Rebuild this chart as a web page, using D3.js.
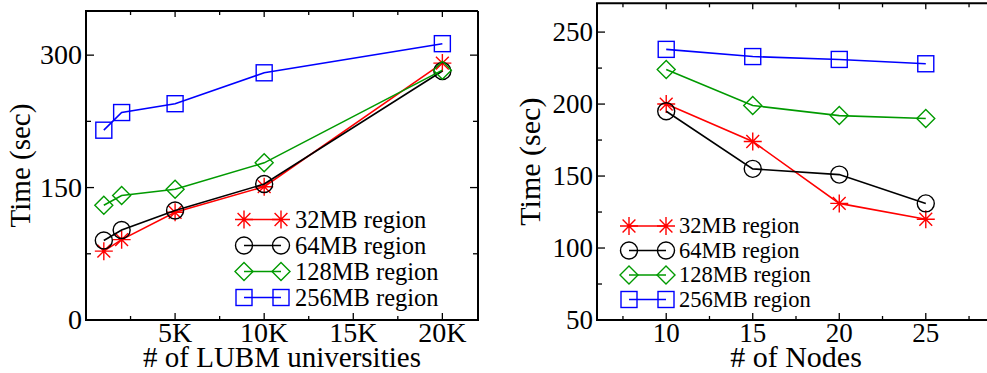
<!DOCTYPE html>
<meta charset="utf-8">
<script src="https://d3js.org/d3.v7.min.js"></script>
<style>
  body { margin: 0; background: #fff; }
</style>
<div id="chart"></div>
<script>

// ---- data ----
var seriesNames = ["32MB region", "64MB region", "128MB region", "256MB region"];

// left: time vs # of LUBM universities
var leftX = [1000, 2000, 5000, 10000, 20000];
var left32 = [78, 91, 122, 151, 291];
var left64 = [90, 102, 124, 154, 282];
var left128 = [130, 141, 148, 178, 283];
var left256 = [215, 235, 245, 280, 313];
var leftXTicks = [5000, 10000, 15000, 20000];
var leftXTickLabels = ["5K", "10K", "15K", "20K"];
var leftYTicks = [0, 150, 300];

// right: time vs # of nodes
var rightX = [10, 15, 20, 25];
var right32 = [200, 174, 131, 120];
var right64 = [195, 155, 151, 131];
var right128 = [224, 199, 192, 190];
var right256 = [238, 233, 231, 228];
var rightXTicks = [10, 15, 20, 25];
var rightXTickLabels = ["10", "15", "20", "25"];
var rightYTicks = [50, 100, 150, 200, 250];

var colors = ["#ff0000", "#000000", "#009a00", "#0000ff"];
var shapes = ["star", "circle", "diamond", "square"];

var svg = d3.select("#chart").append("svg")
    .attr("width", 987)
    .attr("height", 373);

function label(g, x, y, size, str) {
  return g.append("text").attr("x", x).attr("y", y)
    .style("font-family", "Liberation Serif")
    .style("font-size", size + "px")
    .style("fill", "#000")
    .text(str);
}

// marker drawing
function marker(g, shape, color, cx, cy) {
  var m = g.append("g").attr("transform", "translate(" + cx + "," + cy + ")")
    .attr("fill", "none").attr("stroke", color).attr("stroke-width", 1.4);
  if (shape == "circle") {
    m.append("circle").attr("r", 8.5);
  } else if (shape == "square") {
    m.append("rect").attr("x", -8).attr("y", -8).attr("width", 16).attr("height", 16);
  } else if (shape == "diamond") {
    m.append("path").attr("d", "M0,-9L9,0L0,9L-9,0Z");
  } else {
    var r = 9, d = 6.4;
    m.append("path").attr("d",
      "M" + (-r) + ",0H" + r + "M0," + (-r) + "V" + r +
      "M" + (-d) + "," + (-d) + "L" + d + "," + d +
      "M" + (-d) + "," + d + "L" + d + "," + (-d));
  }
}

function drawPanel(p) {
  var x = d3.scaleLinear().domain(p.xDomain).range(p.xRange);
  var y = d3.scaleLinear().domain(p.yDomain).range(p.yRange);
  var g = svg.append("g");
  var x0 = p.xRange[0], x1 = p.xRange[1], y0 = p.yRange[0], y1 = p.yRange[1];

  // frame
  var frame = "M" + x1 + "," + y1 + "H" + x0 + "V" + y0 + "H" + x1;
  if (p.rightBorder) frame += "V" + y1;
  g.append("path").attr("d", frame).attr("fill", "none")
    .attr("stroke", "#000").attr("stroke-width", 2);

  // ticks, all pointing inward
  var ticks = g.append("g").attr("stroke", "#000").attr("stroke-width", 1.3);
  p.xMajor.forEach(function(v) {
    ticks.append("line").attr("x1", x(v)).attr("x2", x(v)).attr("y1", y0).attr("y2", y0 - 7);
    ticks.append("line").attr("x1", x(v)).attr("x2", x(v)).attr("y1", y1).attr("y2", y1 + 6);
  });
  p.xMinor.forEach(function(v) {
    ticks.append("line").attr("x1", x(v)).attr("x2", x(v)).attr("y1", y0).attr("y2", y0 - 4);
    ticks.append("line").attr("x1", x(v)).attr("x2", x(v)).attr("y1", y1).attr("y2", y1 + 4);
  });
  p.yMajor.forEach(function(v) {
    ticks.append("line").attr("x1", x0).attr("x2", x0 + 8).attr("y1", y(v)).attr("y2", y(v));
    if (p.rightBorder)
      ticks.append("line").attr("x1", x1).attr("x2", x1 - 8).attr("y1", y(v)).attr("y2", y(v));
  });
  p.yMinor.forEach(function(v) {
    ticks.append("line").attr("x1", x0).attr("x2", x0 + 5).attr("y1", y(v)).attr("y2", y(v));
    if (p.rightBorder)
      ticks.append("line").attr("x1", x1).attr("x2", x1 - 5).attr("y1", y(v)).attr("y2", y(v));
  });

  // tick labels
  p.xMajor.forEach(function(v, i) {
    label(g, x(v), 342, p.tickFont, p.xLabels[i]).attr("text-anchor", "middle");
  });
  p.yMajor.forEach(function(v) {
    label(g, x0 - 4, y(v) + p.tickFont * 0.33, p.tickFont, v).attr("text-anchor", "end");
  });

  // axis titles
  label(g, p.xTitleX, 367, p.titleFont, p.xTitle).attr("text-anchor", "middle");
  label(g, 0, 0, p.titleFont, "Time (sec)")
    .attr("transform", "translate(" + p.yTitleX + "," + ((y0 + y1) / 2) + ") rotate(-90)")
    .attr("text-anchor", "middle");

  // series
  var line = d3.line().x(function(d) { return x(d[0]); }).y(function(d) { return y(d[1]); });
  p.series.forEach(function(vals, k) {
    var pts = p.xs.map(function(v, i) { return [v, vals[i]]; });
    g.append("path").datum(pts).attr("d", line).attr("fill", "none")
      .attr("stroke", colors[k]).attr("stroke-width", 1.6);
    pts.forEach(function(d) { marker(g, shapes[k], colors[k], x(d[0]), y(d[1])); });
  });

  // legend
  seriesNames.forEach(function(name, k) {
    var ly = p.legend.y + k * p.legend.dy;
    g.append("line").attr("x1", p.legend.x1).attr("x2", p.legend.x2)
      .attr("y1", ly).attr("y2", ly).attr("stroke", colors[k]).attr("stroke-width", 1.6);
    marker(g, shapes[k], colors[k], p.legend.x1, ly);
    marker(g, shapes[k], colors[k], p.legend.x2, ly);
    label(g, p.legend.tx, ly + p.legend.font * 0.33, p.legend.font, name);
  });
}

drawPanel({
  xDomain: [0, 22000], xRange: [86, 478],
  yDomain: [0, 350], yRange: [320, 11],
  xMajor: leftXTicks, xLabels: leftXTickLabels,
  xMinor: [2500, 7500, 12500, 17500],
  yMajor: leftYTicks, yMinor: [75, 225],
  rightBorder: true,
  tickFont: 28, titleFont: 29,
  xTitle: "# of LUBM universities", xTitleX: 282, yTitleX: 30,
  xs: leftX, series: [left32, left64, left128, left256],
  legend: { x1: 244, x2: 281, tx: 295, y: 219.5, dy: 26, font: 24.5 }
});

drawPanel({
  xDomain: [6, 29], xRange: [597, 995],
  yDomain: [50, 270], yRange: [320, 3.3],
  xMajor: rightXTicks, xLabels: rightXTickLabels,
  xMinor: [7.5, 12.5, 17.5, 22.5, 27.5],
  yMajor: rightYTicks, yMinor: [75, 125, 175, 225],
  rightBorder: false,
  tickFont: 27, titleFont: 30,
  xTitle: "# of Nodes", xTitleX: 796, yTitleX: 540,
  xs: rightX, series: [right32, right64, right128, right256],
  legend: { x1: 629, x2: 666, tx: 679, y: 226, dy: 24.5, font: 22.5 }
});

</script>
